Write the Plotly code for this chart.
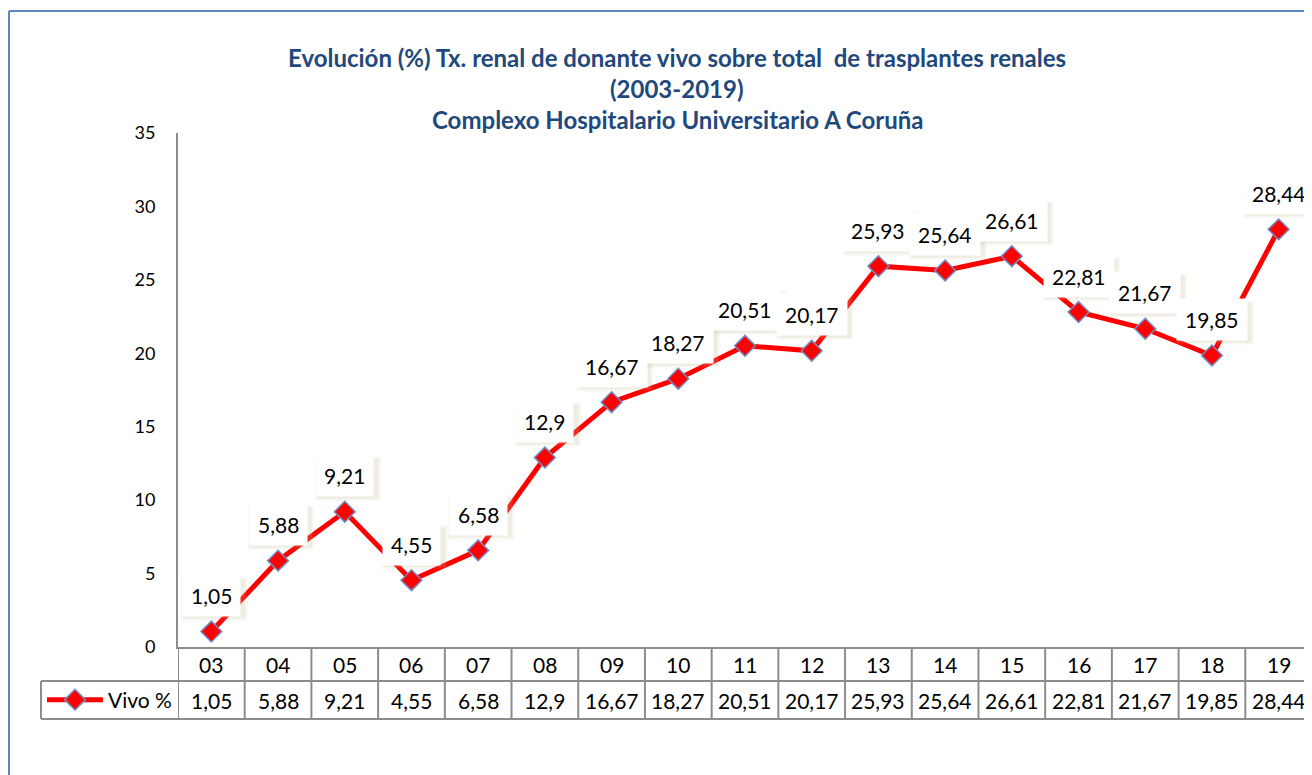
import plotly.graph_objects as go

# ---- data ----
years = ["03", "04", "05", "06", "07", "08", "09", "10", "11", "12",
         "13", "14", "15", "16", "17", "18", "19"]
vivo_pct = [1.05, 5.88, 9.21, 4.55, 6.58, 12.9, 16.67, 18.27, 20.51, 20.17,
            25.93, 25.64, 26.61, 22.81, 21.67, 19.85, 28.44]
series_name = "Vivo %"
title_lines = [
    "Evolución (%) Tx. renal de donante vivo sobre total  de trasplantes renales",
    "(2003-2019)",
    "Complexo Hospitalario Universitario A Coruña",
]

# ---- layout geometry (reference-screen pixels; page has an 8px body margin) ----
OFF = 8
W, H = 1312 - OFF, 775 - OFF
PL, PR, PT, PB = 178, 1312, 133, 647   # plot area edges on screen


def px(p):
    return (p - PL) / (PR - PL)


def py(p):
    return (PB - p) / (PB - PT)


FONT = "Lato"
GRID = "#8c8c8c"
TITLE_C = "#1F497D"
idx = list(range(len(years)))

fig = go.Figure()
fig.add_trace(go.Scatter(
    x=idx, y=vivo_pct, name=series_name, mode="lines+markers",
    line=dict(color="#FF0000", width=5),
    marker=dict(symbol="diamond", size=16, color="#FF0000",
                line=dict(color="#6C8EC8", width=1.5)),
    showlegend=True, cliponaxis=False,
))


def fmt(v):
    return str(v).replace(".", ",")


annotations = []
shapes = []
# data labels: soft shadow (pixel-sized rect anchored at the point) + white box
for i, v in zip(idx, vivo_pct):
    lbl = fmt(v)
    half = (len(lbl) * 11 + 16) / 2
    for grow, alpha in ((3, 0.10), (1, 0.16)):
        shapes.append(dict(type="rect", xref="x", yref="y",
                           xsizemode="pixel", ysizemode="pixel",
                           xanchor=i, yanchor=v,
                           x0=-half + 3 - grow, x1=half + 3 + grow,
                           y0=36 - 3 - 19 - grow, y1=36 - 3 + 19 + grow,
                           fillcolor="rgba(190,180,140,%.2f)" % alpha,
                           line=dict(width=0), layer="above"))
    annotations.append(dict(
        x=i, y=v, xref="x", yref="y", text=lbl, showarrow=True,
        arrowcolor="rgba(0,0,0,0)", arrowwidth=0.1, ax=0, ay=-36,
        bgcolor="white", borderpad=8,
        font=dict(family=FONT, size=21, color="#000000")))

# data table text
for i, (yr, v) in enumerate(zip(years, vivo_pct)):
    annotations.append(dict(x=i, y=py(664), xref="x", yref="paper", text=yr,
                            showarrow=False, yanchor="middle",
                            font=dict(family=FONT, size=21, color="#000")))
    annotations.append(dict(x=i, y=py(700), xref="x", yref="paper", text=fmt(v),
                            showarrow=False, yanchor="middle",
                            font=dict(family=FONT, size=21, color="#000")))

# title lines
for t, yp in zip(title_lines, [57, 88, 119]):
    annotations.append(dict(x=px(677), y=py(yp), xref="paper", yref="paper",
                            text="<b>" + t + "</b>", showarrow=False,
                            xanchor="center", yanchor="middle",
                            font=dict(family=FONT, size=24, color=TITLE_C)))

# table vertical lines
for k in range(len(years) + 1):
    shapes.append(dict(type="line", xref="x", yref="paper",
                       x0=k - 0.5, x1=k - 0.5, y0=py(647), y1=py(719),
                       line=dict(color=GRID, width=2)))
# table horizontal lines
for yp in (681, 719):
    shapes.append(dict(type="line", xref="paper", yref="paper",
                       x0=px(41), x1=1.0, y0=py(yp), y1=py(yp),
                       line=dict(color=GRID, width=2)))
# legend cell left edge
shapes.append(dict(type="line", xref="paper", yref="paper",
                   x0=px(41), x1=px(41), y0=py(681), y1=py(719),
                   line=dict(color=GRID, width=2)))
# chart outer border (top and left)
shapes.append(dict(type="line", xref="paper", yref="paper",
                   x0=px(9), x1=1.01, y0=py(11), y1=py(11),
                   line=dict(color="#5B87C5", width=2)))
shapes.append(dict(type="line", xref="paper", yref="paper",
                   x0=px(9), x1=px(9), y0=py(11), y1=py(780),
                   line=dict(color="#5B87C5", width=2)))

fig.update_layout(
    width=W, height=H,
    margin=dict(l=PL - OFF, r=0, t=PT - OFF, b=H - (PB - OFF), pad=0),
    paper_bgcolor="white", plot_bgcolor="white",
    separators=", ",
    font=dict(family=FONT, color="#000"),
    xaxis=dict(range=[-0.5, len(years) - 0.5], showticklabels=False,
               showgrid=False, zeroline=False, showline=True,
               linecolor=GRID, linewidth=2, ticks=""),
    yaxis=dict(range=[0, 35], dtick=5, tick0=0, showgrid=False,
               zeroline=False, showline=True, linecolor=GRID, linewidth=2,
               ticks="", ticklabelstandoff=17,
               tickfont=dict(family=FONT, size=18, color="#000")),
    legend=dict(x=px(42), y=py(700), xref="paper", yref="paper",
                xanchor="left", yanchor="middle", itemwidth=56,
                bgcolor="rgba(0,0,0,0)", borderwidth=0,
                font=dict(family=FONT, size=21, color="#000"),
                tracegroupgap=0, itemclick=False),
    annotations=annotations,
    shapes=shapes,
    showlegend=True,
)

fig.write_html("out.html")
